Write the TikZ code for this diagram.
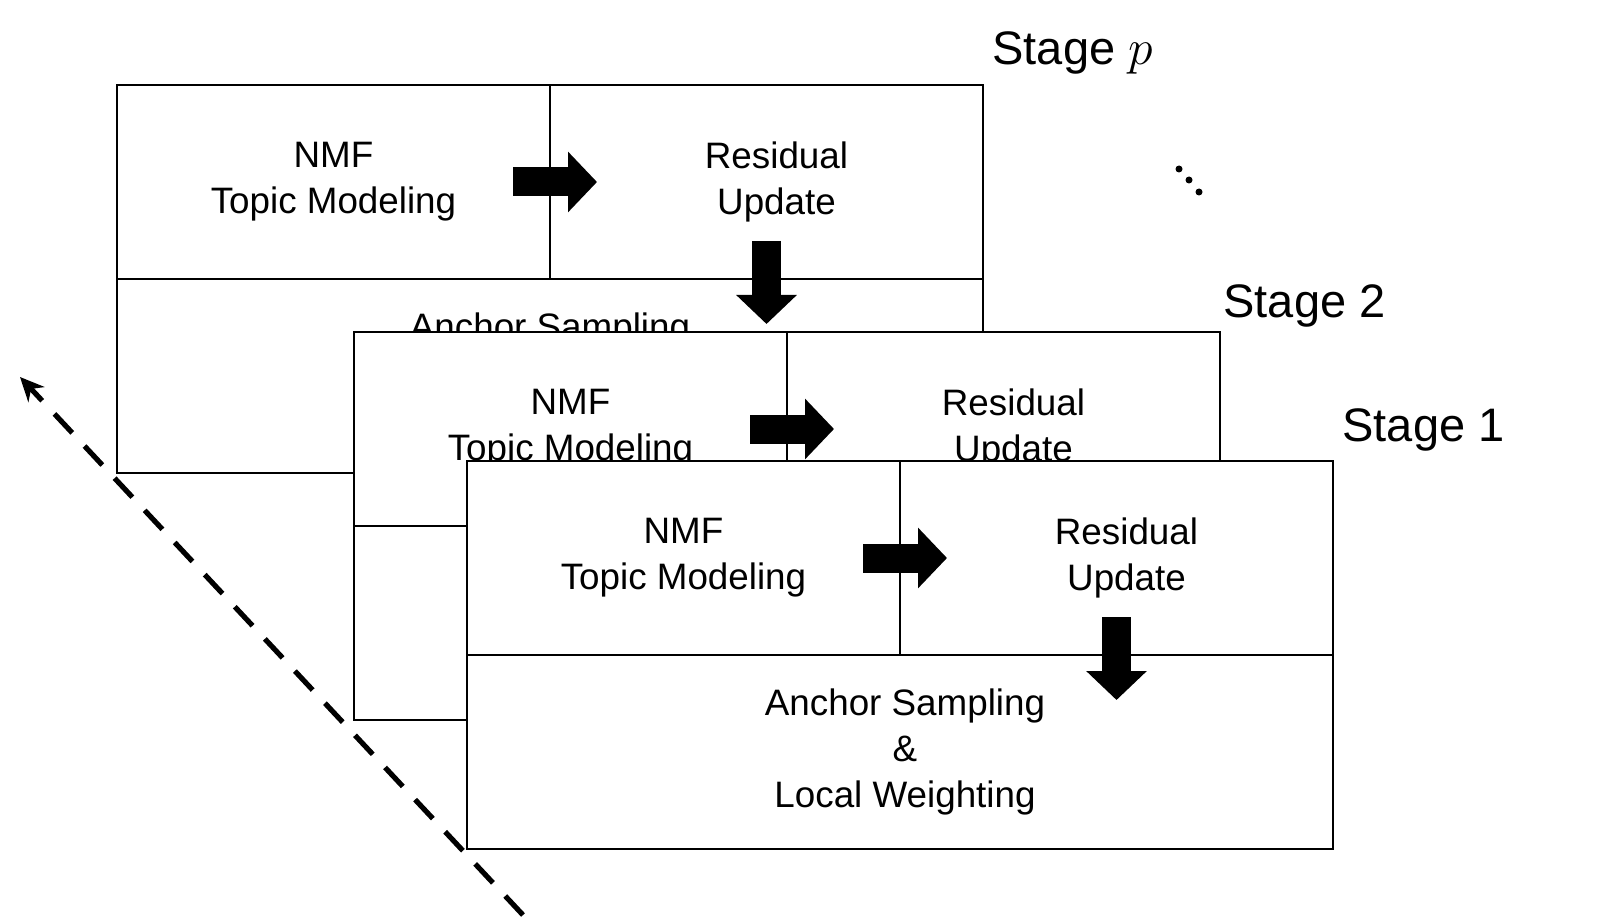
\documentclass[tikz,border=0pt]{standalone}
\usepackage{fontspec}
\setmainfont{Liberation Sans}
\usetikzlibrary{positioning,arrows.meta}

\begin{document}
\begin{tikzpicture}[x=0.5pt,y=0.5pt,thick,
    cell/.style={draw,fill=white,line width=1.2pt,minimum width=216.5pt,minimum height=97pt,inner sep=0pt,outer sep=0pt,align=center,font=\fontsize{18.4}{23}\selectfont},
    wide cell/.style={cell,minimum width=433pt},
    block arrow/.style={line width=14.5pt,-{Triangle[length=14.5pt,width=29.5pt]}},
    stage label/.style={anchor=base west,font=\fontsize{23.5}{28}\selectfont}]

    \useasboundingbox (0,0) rectangle (1598,-919);

    % stage p
    \node[cell] (nmfp) at (333.5,-182) {NMF\\Topic Modeling};
    \node[cell] (resp) [right=0pt of nmfp] {\hspace*{10pt}Residual\\\hspace*{10pt}Update};
    \node[wide cell] (ancp) [below=0pt of nmfp.south east] {Anchor Sampling\\\&\\Local Weighting};
    \draw[block arrow] ([xshift=-18.5pt]nmfp.east) -- ([xshift=23.5pt]nmfp.east);
    \draw[block arrow] ([yshift=19pt]resp.south) -- ([yshift=-22.5pt]resp.south);
    \node[stage label] (labp) at ([shift={(1pt,10pt)}]resp.north east) {Stage $p$};

    % stage 2
    \node[cell] (nmf2) at (570.5,-429) {NMF\\Topic Modeling};
    \node[cell] (res2) [right=0pt of nmf2] {\hspace*{10pt}Residual\\\hspace*{10pt}Update};
    \node[wide cell] (anc2) [below=0pt of nmf2.south east] {Anchor Sampling\\\&\\Local Weighting};
    \draw[block arrow] ([xshift=-18.5pt]nmf2.east) -- ([xshift=23.5pt]nmf2.east);
    \draw[block arrow] ([yshift=19pt]res2.south) -- ([yshift=-22.5pt]res2.south);
    \node[stage label] (lab2) at ([shift={(-2pt,7.5pt)}]res2.north east) {Stage 2};

    % stage 1
    \node[cell] (nmf1) at (683.5,-558) {NMF\\Topic Modeling};
    \node[cell] (res1) [right=0pt of nmf1] {\hspace*{10pt}Residual\\\hspace*{10pt}Update};
    \node[wide cell] (anc1) [below=0pt of nmf1.south east] {\hspace*{5pt}Anchor Sampling\\\hspace*{5pt}\&\\\hspace*{5pt}Local Weighting};
    \draw[block arrow] ([xshift=-18.5pt]nmf1.east) -- ([xshift=23.5pt]nmf1.east);
    \draw[block arrow] ([yshift=19pt]res1.south) -- ([yshift=-22.5pt]res1.south);
    \node[stage label] (lab1) at ([shift={(1pt,10pt)}]res1.north east) {Stage 1};

    % dots between stages
    \fill (1179,-169) circle (3.5) (1189,-180) circle (3.5) (1199,-192) circle (3.5);

    % direction of the stages
    \coordinate (start) at (523,-915);
    \coordinate (stop) at (20,-377);
    \draw[line width=2.6pt,dash pattern=on 13pt off 9pt,-{Stealth[length=12pt,width=11pt]}] (start) -- (stop);

\end{tikzpicture}
\end{document}
